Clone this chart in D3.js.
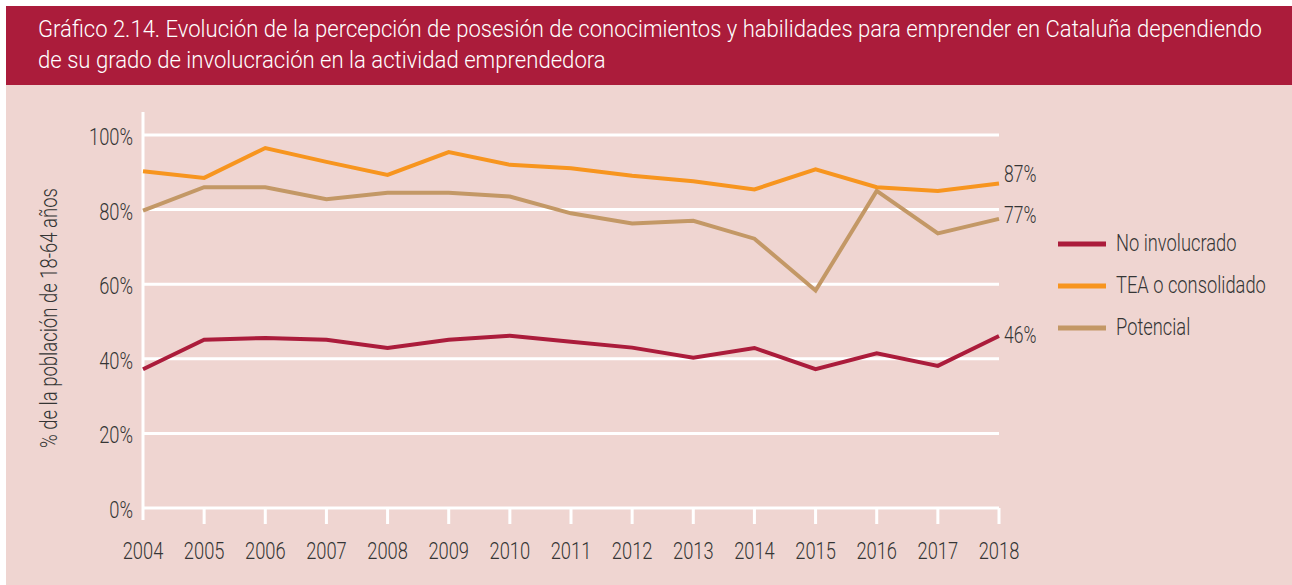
<!DOCTYPE html>
<html><head><meta charset="utf-8">
<script src="https://cdn.jsdelivr.net/npm/d3@7"></script>
<style>
html,body{margin:0;padding:0;background:#fff;}
svg{display:block;}
text{font-family:Roboto,"Liberation Sans",sans-serif;font-weight:300;}
</style></head>
<body>
<svg id="c" width="1292" height="585"></svg>
<script>
const years = [2004,2005,2006,2007,2008,2009,2010,2011,2012,2013,2014,2015,2016,2017,2018];
const noInvolucrado = [37.2,45.1,45.6,45.1,42.9,45.1,46.2,44.6,43.0,40.3,42.9,37.2,41.5,38.1,46.1];
const teaConsolidado = [90.3,88.5,96.5,92.8,89.3,95.4,92.0,91.1,89.1,87.6,85.4,90.8,86.0,85.0,87.0];
const potencial = [79.7,86.0,86.0,82.8,84.5,84.5,83.5,79.0,76.3,77.0,72.2,58.3,85.0,73.6,77.5];
const yTicks = [0,20,40,60,80,100];
const seriesNames = ["No involucrado","TEA o consolidado","Potencial"];
const endLabels = ["46%","87%","77%"];
const titleLines = ["Gráfico 2.14. Evolución de la percepción de posesión de conocimientos y habilidades para emprender en Cataluña dependiendo","de su grado de involucración en la actividad emprendedora"];
const yAxisTitle = "% de la población de 18-64 años";

const colors = ["#AB1C3B","#F7951F","#C39866"];
const series = [noInvolucrado, teaConsolidado, potencial];
const textColor = "#353535";

const svg = d3.select("#c");
svg.append("rect").attr("x",6).attr("y",6).attr("width",1286).attr("height",579).attr("fill","#EFD5D1");
svg.append("rect").attr("x",6).attr("y",6).attr("width",1286).attr("height",79).attr("fill","#AB1C3B");

// measure condensing factor from "100%" reference width
const probe = svg.append("text").attr("font-size",24).text("100%");
const kCond = 44 / probe.node().getComputedTextLength();
probe.remove();

// place text at (px,py) with horizontal scale sx (via transform so bounding boxes are real)
function placeText(sel, px, py, sx, rot){
  sel.each(function(d,i){
    const X = typeof px === "function" ? px(d,i) : px;
    const Y = typeof py === "function" ? py(d,i) : py;
    const S = typeof sx === "function" ? sx.call(this,d,i) : sx;
    this.setAttribute("x",0); this.setAttribute("y",0);
    this.setAttribute("transform",`translate(${X},${Y})${rot?` rotate(${rot})`:""} scale(${S},1)`);
  });
}

const titleTargets = [1224, 568];
svg.selectAll("text.title").data(titleLines).join("text")
  .attr("class","title").attr("fill","#fff").attr("font-size",24).text(d=>d)
  .call(placeText, 38, (d,i)=>37+i*31, function(d,i){ return titleTargets[i]/this.getComputedTextLength(); });

const x = d3.scaleLinear().domain([2004,2018]).range([143,999]);
const y = d3.scaleLinear().domain([0,100]).range([508,135]);

// gridlines
svg.selectAll("line.grid").data(yTicks).join("line")
  .attr("x1",143).attr("x2",999).attr("y1",d=>y(d)).attr("y2",d=>y(d))
  .attr("stroke","#fff").attr("stroke-width",3);
// y axis line
svg.append("line").attr("x1",143).attr("x2",143).attr("y1",112).attr("y2",520).attr("stroke","#fff").attr("stroke-width",3);
// x ticks
svg.selectAll("line.xt").data(years.slice(1)).join("line")
  .attr("x1",d=>x(d)).attr("x2",d=>x(d)).attr("y1",508).attr("y2",524)
  .attr("stroke","#fff").attr("stroke-width",3);
// y labels
svg.selectAll("text.yl").data(yTicks).join("text")
  .attr("text-anchor","end").attr("fill",textColor).attr("font-size",24).text(d=>d+"%")
  .call(placeText, 133, d=>y(d)+10, kCond);
// x labels
svg.selectAll("text.xl").data(years).join("text")
  .attr("text-anchor","middle").attr("fill",textColor).attr("font-size",24).text(d=>d)
  .call(placeText, d=>x(d), 559, kCond);
// y title
svg.append("text").attr("text-anchor","middle").attr("fill",textColor).attr("font-size",23).text(yAxisTitle)
  .call(placeText, 57, 318, function(){ return 260/this.getComputedTextLength(); }, -90);

const line = d3.line().x((d,i)=>x(years[i])).y(d=>y(d));
[2,1,0].forEach(k=>{
  svg.append("path").datum(series[k]).attr("d",line).attr("fill","none")
    .attr("stroke",colors[k]).attr("stroke-width",4).attr("stroke-linejoin","miter");
});
// end labels
const endOffsets = [7,-1.5,4];
series.forEach((s,k)=>{
  svg.append("text").attr("fill",textColor).attr("font-size",23).text(endLabels[k])
    .call(placeText, 1004, y(s[s.length-1])+endOffsets[k], kCond);
});
// legend
seriesNames.forEach((n,k)=>{
  const ly = 244 + k*42;
  svg.append("line").attr("x1",1058).attr("x2",1106).attr("y1",ly).attr("y2",ly)
    .attr("stroke",colors[k]).attr("stroke-width",5);
  svg.append("text").attr("fill",textColor).attr("font-size",24).text(n)
    .call(placeText, 1116, ly+7, kCond);
});
</script>
</body></html>
